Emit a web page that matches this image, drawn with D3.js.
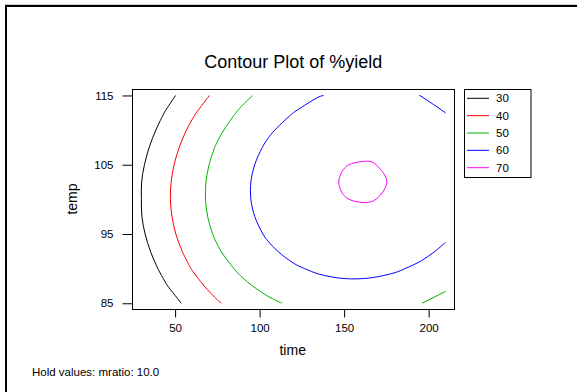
<!DOCTYPE html>
<html>
<head>
<meta charset="utf-8">
<script src="https://cdn.jsdelivr.net/npm/d3@7"></script>
<style>
  body { margin: 0; background: #fff; }
  text { font-family: Arial, "Liberation Sans", sans-serif; fill: #000; }
</style>
</head>
<body>
<svg id="chart"></svg>
<script>
// grid of fitted %yield, rows = temp (ascending), columns = time (ascending)
const timeValues = [30, 45, 60, 75, 90, 105, 120, 135, 150, 165, 180, 195, 210];
const tempValues = [85, 87.5, 90, 92.5, 95, 97.5, 100, 102.5, 105, 107.5, 110, 112.5, 115];
const yieldGrid = [
  [17.53, 25.81, 33.05, 39.20, 44.31, 48.34, 51.32, 53.22, 54.07, 53.86, 52.58, 50.24, 46.83],
  [21.35, 29.70, 37.01, 43.23, 48.40, 52.50, 55.55, 57.52, 58.43, 58.28, 57.08, 54.80, 51.46],
  [24.49, 32.91, 40.28, 46.57, 51.81, 55.98, 59.09, 61.13, 62.11, 62.03, 60.89, 58.68, 55.41],
  [26.95, 35.43, 42.87, 49.23, 54.54, 58.77, 61.95, 64.06, 65.10, 65.09, 64.02, 61.87, 58.67],
  [28.71, 37.27, 44.77, 51.19, 56.57, 60.87, 64.12, 66.29, 67.40, 67.46, 66.45, 64.37, 61.24],
  [29.79, 38.41, 45.98, 52.47, 57.91, 62.28, 65.59, 67.83, 69.01, 69.14, 68.20, 66.19, 63.12],
  [29.96, 38.87, 46.51, 53.06, 58.57, 63.01, 66.39, 68.70, 69.94, 70.24, 69.26, 67.32, 64.32],
  [29.88, 38.64, 46.34, 52.97, 58.55, 63.05, 66.50, 68.87, 70.30, 70.55, 69.75, 67.76, 64.83],
  [28.90, 37.72, 45.49, 52.18, 57.83, 62.40, 65.91, 68.35, 69.94, 70.24, 69.32, 67.51, 64.65],
  [27.22, 36.11, 43.95, 50.71, 56.42, 61.06, 64.64, 67.15, 68.60, 68.99, 68.32, 66.58, 63.78],
  [24.86, 33.82, 41.73, 48.55, 54.33, 59.04, 62.68, 65.26, 66.78, 67.24, 66.63, 64.96, 62.23],
  [21.82, 30.84, 38.82, 45.71, 51.55, 56.33, 60.04, 62.69, 64.27, 64.79, 64.26, 62.65, 59.98],
  [18.08, 27.17, 35.21, 42.17, 48.09, 52.93, 56.71, 59.75, 61.07, 61.66, 61.19, 59.95, 57.05]
];
const levels = [30, 40, 50, 60, 70];
const levelColors = ['#000000', '#ff0000', '#00b400', '#0000ff', '#ff00ff'];
const timeTicks = [50, 100, 150, 200];
const tempTicks = [85, 95, 105, 115];

const width = 577, height = 392;
const box = { left: 132.5, right: 454.5, top: 89.5, bottom: 309.5 };

const svg = d3.select('#chart')
  .attr('width', width)
  .attr('height', height);

// outer frame
svg.append('line')
  .attr('x1', 5).attr('x2', width).attr('y1', 4.5).attr('y2', 4.5)
  .attr('stroke', '#cccccc');
svg.append('path')
  .attr('d', `M6,${height + 5}V6H${width + 5}`)
  .attr('fill', 'none')
  .attr('stroke', '#000')
  .attr('stroke-width', 2);

const x = d3.scaleLinear().domain([24.8, 215.3]).range([box.left, box.right]);
const y = d3.scaleLinear().domain([84.1, 115.86]).range([box.bottom, box.top]);

// grid index -> data value (d3.contours puts sample i at i + 0.5)
const nx = timeValues.length, ny = tempValues.length;
const gridToTime = d3.scaleLinear().domain([0.5, nx - 0.5]).range([timeValues[0], timeValues[nx - 1]]);
const gridToTemp = d3.scaleLinear().domain([0.5, ny - 0.5]).range([tempValues[0], tempValues[ny - 1]]);

const contours = d3.contours()
  .size([nx, ny])
  .thresholds(levels)(yieldGrid.flat());

const toPx = (p) => [x(gridToTime(p[0])), y(gridToTemp(p[1]))];

// keep only the parts of each ring that lie inside the data region
function splitRing(ring) {
  const eps = 1e-6;
  const inside = (p) => p[0] >= 0.5 - eps && p[0] <= nx - 0.5 + eps &&
                        p[1] >= 0.5 - eps && p[1] <= ny - 0.5 + eps;
  const pts = ring.slice(0, -1);
  const start = pts.findIndex((p) => !inside(p));
  if (start < 0) return [{ pts: pts.map(toPx), closed: true }];
  const runs = [];
  let cur = [];
  for (let k = 1; k <= pts.length; k++) {
    const p = pts[(start + k) % pts.length];
    if (inside(p)) {
      cur.push(toPx(p));
    } else {
      if (cur.length > 1) runs.push({ pts: cur, closed: false });
      cur = [];
    }
  }
  return runs;
}

// merge vertices that sit very close together so closed loops stay round
function thin(pts) {
  const out = [];
  pts.forEach((p) => {
    const q = out[out.length - 1];
    if (q && Math.hypot(p[0] - q[0], p[1] - q[1]) < 8) {
      out[out.length - 1] = [(p[0] + q[0]) / 2, (p[1] + q[1]) / 2];
    } else {
      out.push(p);
    }
  });
  return out;
}

const plot = svg.append('g').attr('class', 'contours');
contours.forEach((c, i) => {
  c.coordinates.forEach((poly) => {
    poly.forEach((ring) => {
      splitRing(ring).forEach((run) => {
        const gen = d3.line()
          .curve(run.closed ? d3.curveCatmullRomClosed : d3.curveCatmullRom);
        plot.append('path')
          .attr('d', gen(run.closed ? thin(run.pts) : run.pts))
          .attr('fill', 'none')
          .attr('stroke', levelColors[i])
          .attr('stroke-width', 1);
      });
    });
  });
});

// plot box
svg.append('rect')
  .attr('x', box.left)
  .attr('y', box.top)
  .attr('width', box.right - box.left)
  .attr('height', box.bottom - box.top)
  .attr('fill', 'none')
  .attr('stroke', '#000');

const axisX = d3.axisBottom(x).tickValues(timeTicks).tickSize(8).tickPadding(6).tickSizeOuter(0);
const axisY = d3.axisLeft(y).tickValues(tempTicks).tickSize(10).tickPadding(9).tickSizeOuter(0);

const gx = svg.append('g')
  .attr('class', 'axis x')
  .attr('transform', `translate(0, ${box.bottom})`)
  .call(axisX);
const gy = svg.append('g')
  .attr('class', 'axis y')
  .attr('transform', `translate(${box.left}, 0)`)
  .call(axisY);
[gx, gy].forEach((g) => {
  g.select('.domain').remove();
  g.selectAll('text').style('font-size', '11.5px').style('font-family', 'Arial, "Liberation Sans", sans-serif');
  g.selectAll('line').attr('stroke', '#000');
});

// titles
svg.append('text')
  .attr('x', 293.3).attr('y', 67.7)
  .attr('text-anchor', 'middle')
  .style('font-size', '18px')
  .text('Contour Plot of %yield');

svg.append('text')
  .attr('x', 292.7).attr('y', 355)
  .attr('text-anchor', 'middle')
  .style('font-size', '14px')
  .text('time');

svg.append('text')
  .attr('transform', 'translate(77, 199) rotate(-90)')
  .attr('text-anchor', 'middle')
  .style('font-size', '14px')
  .text('temp');

svg.append('text')
  .attr('x', 32).attr('y', 376)
  .style('font-size', '11.5px')
  .text('Hold values: mratio: 10.0');

// legend
const legend = svg.append('g').attr('class', 'legend');
legend.append('rect')
  .attr('x', 464.5).attr('y', 89.5)
  .attr('width', 66.5).attr('height', 88)
  .attr('fill', 'none')
  .attr('stroke', '#000');
const item = legend.selectAll('g.item')
  .data(levels)
  .enter().append('g')
  .attr('class', 'item')
  .attr('transform', (d, i) => `translate(0, ${98.3 + i * 17.35})`);
item.append('line')
  .attr('x1', 467).attr('x2', 489)
  .attr('stroke', (d, i) => levelColors[i]);
item.append('text')
  .attr('x', 496)
  .attr('dy', '0.35em')
  .style('font-size', '11.5px')
  .text((d) => d);
</script>
</body>
</html>
